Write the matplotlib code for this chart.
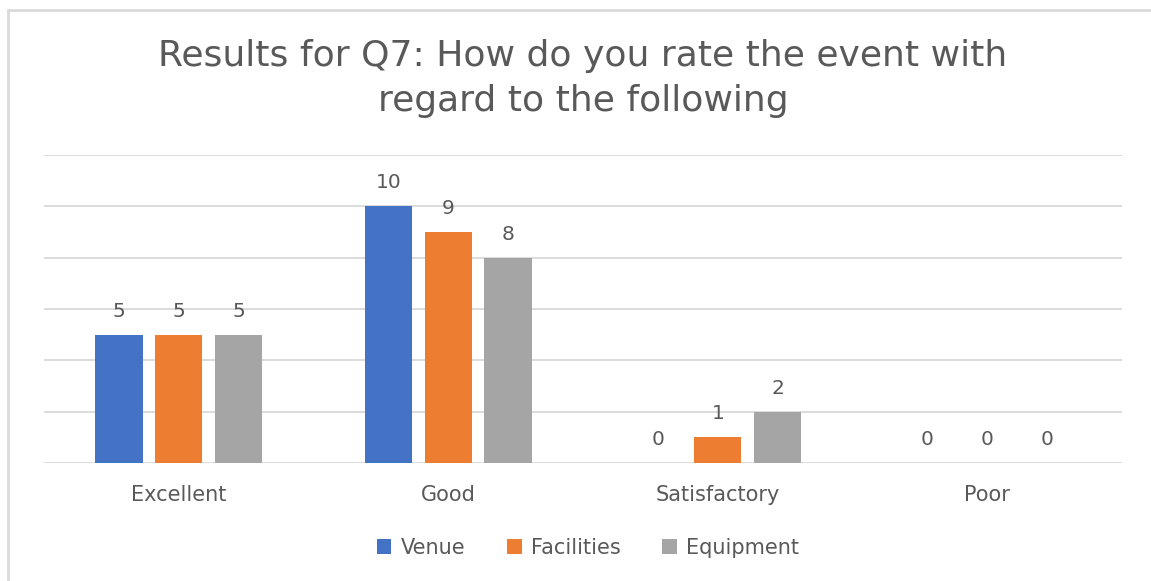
import numpy as np
import matplotlib.pyplot as plt
from matplotlib.patches import Patch, Rectangle

plt.rcParams['font.family'] = ['DejaVu Sans']

categories = ['Excellent', 'Good', 'Satisfactory', 'Poor']
series = ['Venue', 'Facilities', 'Equipment']
venue = [5, 10, 0, 0]
facilities = [5, 9, 1, 0]
equipment = [5, 8, 2, 0]
colors = ['#4472C4', '#ED7D31', '#A5A5A5']
text_color = '#595959'

W, H = 1151, 581
fig = plt.figure(figsize=(W / 100, H / 100), dpi=100)
ax = fig.add_axes([44 / W, 118 / H, 1078 / W, 308 / H])

x = np.arange(len(categories))
width = 0.176
step = 0.2215
for i, (vals, c) in enumerate(zip([venue, facilities, equipment], colors)):
    pos = x + (i - 1) * step
    bars = ax.bar(pos, vals, width=width, color=c, zorder=3)
    for b, v in zip(bars, vals):
        ax.annotate(str(v), (b.get_x() + b.get_width() / 2, v),
                    xytext=(0, 17), textcoords='offset points',
                    ha='center', va='center', fontsize=14.5, color=text_color)

ax.set_xlim(-0.5, 3.5)
ax.set_ylim(0, 12)
ax.set_yticks(np.arange(0, 13, 2))
ax.yaxis.grid(True, color='#d9d9d9', linewidth=1.3, zorder=0)
ax.tick_params(axis='y', left=False, labelleft=False)
ax.tick_params(axis='x', bottom=False, labelsize=15, labelcolor=text_color, pad=12)
ax.set_xticks(x)
ax.set_xticklabels(categories)
for s in ax.spines.values():
    s.set_visible(False)

fig.text(583 / W, 1 - 56 / H, 'Results for Q7: How do you rate the event with',
         ha='center', va='center', fontsize=26, color=text_color)
fig.text(583 / W, 1 - 101 / H, 'regard to the following',
         ha='center', va='center', fontsize=26, color=text_color)

handles = [Patch(facecolor=c, label=s) for s, c in zip(series, colors)]
fig.legend(handles=handles, loc='center', bbox_to_anchor=(588 / W, 1 - 548 / H),
           ncol=3, frameon=False, fontsize=15, handlelength=0.7, handleheight=0.7,
           handletextpad=0.45, columnspacing=2.0, labelcolor=text_color)

fig.patches.append(Rectangle((8 / W, -0.1), 1.2, 1 - 10 / H + 0.1, transform=fig.transFigure,
                             fill=False, edgecolor='#d9d9d9', linewidth=2))

fig.savefig('out.png', dpi=100)
